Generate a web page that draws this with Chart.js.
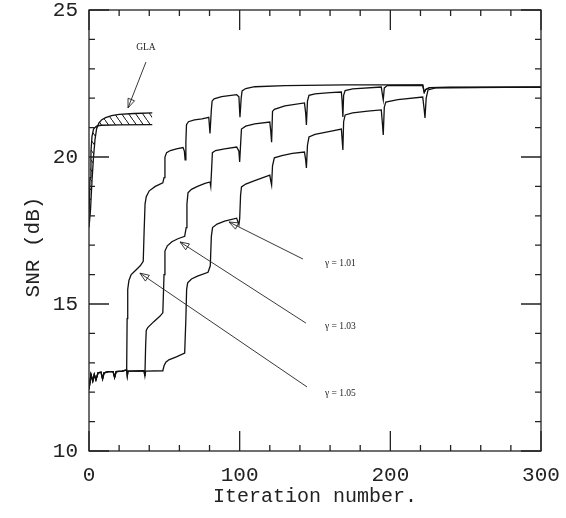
<!DOCTYPE html>
<html><head><meta charset="utf-8">
<script src="https://cdn.jsdelivr.net/npm/chart.js@4.4.0/dist/chart.umd.min.js"></script>
<style>html,body{margin:0;padding:0;background:#fff;}canvas{display:block;}</style>
</head><body>
<canvas id="c" width="566" height="518"></canvas>
<script>
// ---- tick labels ----
const xTickLabels = [0, 100, 200, 300];
const yTickLabels = [10, 15, 20, 25];
const xMinorStep = 20;
const yMinorStep = 1;

// ---- data (iteration, SNR dB) ----
const startNoise = [[0,12.1],[1.3,12.6],[2.5,12.38],[3.5,12.6],[4.6,12.42],[6,12.66],[8,12.68],[9,12.45],[10,12.66],[13,12.7],[16,12.7],[17,12.5],[18,12.7],[22,12.72],[24.5,12.75]];

const gamma105 = startNoise.concat([[25,12.76],[25.3,14.5],[25.7,15.5],[26.5,15.8],[28,16.0],[31,16.15],[34,16.3],[36,16.45],[36.6,17.5],[37.2,18.4],[38,18.65],[40,18.85],[44,19.0],[49,19.12],[49.8,19.3],[50.4,20.0],[51.5,20.15],[54,20.22],[58,20.28],[62.4,20.32],[63.3,20.2],[63.8,19.9],[64.3,20.5],[64.7,21.1],[66,21.2],[70,21.26],[75,21.3],[79.5,21.35],[80.3,20.8],[81.2,21.6],[81.7,21.9],[83,21.98],[88,22.05],[98,22.12],[99.5,22.05],[100.2,21.35],[101,22.0],[101.6,22.25],[104,22.33],[110,22.39],[130,22.43],[170,22.45],[221.5,22.45],[222.5,22.2],[223.5,22.3],[226,22.36],[240,22.38],[300,22.38]]);

const gamma103 = startNoise.concat([[25,12.75],[25.4,12.55],[25.9,12.72],[30,12.72],[36.5,12.73],[37.1,12.55],[37.6,13.6],[38,14.1],[39,14.2],[43,14.4],[47,14.58],[49,14.7],[49.8,16.0],[50.4,16.8],[52,16.98],[55,17.12],[59,17.22],[63.5,17.3],[64.5,17.6],[65,18.4],[65.7,18.78],[68,18.9],[72,19.0],[77,19.1],[80.3,19.15],[80.8,19.0],[81.4,19.6],[81.9,20.15],[84,20.22],[90,20.28],[98,20.34],[99.5,20.2],[100,19.83],[100.8,20.6],[101.2,20.95],[104,21.05],[110,21.13],[120,21.19],[120.6,20.9],[121.2,20.5],[121.8,21.55],[123,21.62],[130,21.74],[143,21.84],[143.8,21.5],[144.3,21.09],[145,21.9],[146,22.1],[150,22.15],[160,22.19],[167.5,22.21],[168,21.9],[168.5,21.36],[169,22.1],[170,22.26],[175,22.32],[194,22.38],[194.8,22.1],[195.3,21.94],[196,22.35],[198,22.43],[221.5,22.44],[222.5,22.2],[223.5,22.3],[226,22.36],[300,22.38]]);

const gamma101 = startNoise.concat([[25,12.75],[25.4,12.55],[25.9,12.72],[36.5,12.73],[37.1,12.55],[37.6,12.72],[49,12.73],[49.8,12.9],[51,13.02],[53,13.1],[58,13.2],[63.5,13.33],[64.3,14.5],[64.8,15.5],[65.5,15.72],[68,15.85],[72,15.95],[79,16.08],[80.5,16.3],[81.2,17.3],[82,17.6],[85,17.72],[90,17.82],[98,17.92],[99.5,17.7],[100,17.9],[100.6,18.7],[101.2,18.98],[104,19.08],[110,19.2],[120,19.38],[120.6,19.2],[121.2,19.05],[121.8,19.7],[123,19.97],[128,20.05],[135,20.12],[143,20.17],[143.8,19.9],[144.3,19.63],[145,20.4],[146,20.68],[150,20.77],[160,20.87],[167.5,20.95],[168,20.6],[168.5,20.24],[169,21.2],[170,21.43],[175,21.5],[185,21.56],[194,21.6],[194.8,21.1],[195.3,20.75],[196,21.7],[197,21.87],[205,21.95],[221.5,22.04],[222.5,21.6],[223,21.33],[223.8,22.0],[225,22.28],[230,22.35],[300,22.38]]);

const glaFast = [[0,18.0],[0.7,19.3],[1.3,20.2],[2,20.7],[3,20.95],[5,21.05],[8,21.08],[20,21.09],[42,21.1]];
const glaSlow = [[0,17.6],[1,18.2],[2,19.2],[3,20.0],[4,20.6],[5,20.95],[6.5,21.15],[8.5,21.27],[11,21.34],[15,21.41],[20,21.45],[30,21.48],[42,21.5]];

// ---- annotations (data units) ----
const labels = [
  {text:'GLA',       at:[37.8,23.74], align:'center', from:[37.8,23.23], to:[25.9,21.67]},
  {text:'γ = 1.01',  at:[156.6,16.39], align:'left',  from:[142,16.53],  to:[92.9,17.79]},
  {text:'γ = 1.03',  at:[156.6,14.22], align:'left',  from:[144,14.35],  to:[60.4,17.11]},
  {text:'γ = 1.05',  at:[156.6,11.97], align:'left',  from:[144.7,12.18],to:[33.8,16.05]}
];

const toXY = arr => arr.map(p => ({x:p[0], y:p[1]}));

// hatch pattern
const pc = document.createElement('canvas'); pc.width = 7; pc.height = 10;
const pctx = pc.getContext('2d');
pctx.strokeStyle = '#111'; pctx.lineWidth = 1;
pctx.beginPath(); pctx.moveTo(-1,-10/7); pctx.lineTo(8,10+10/7); pctx.stroke();
const hatch = pctx.createPattern(pc, 'repeat');

const lineStyle = {borderColor:'#111', borderWidth:1.3, pointRadius:0, fill:false, tension:0};

const framePlugin = {
  id:'frame',
  afterDatasetsDraw(chart){
    const {ctx, chartArea:a, scales:{x, y}} = chart;
    ctx.save();
    ctx.strokeStyle = '#222'; ctx.lineWidth = 1.3;
    ctx.strokeRect(a.left, a.top, a.right - a.left, a.bottom - a.top);
    ctx.beginPath();
    const majL = 20, minL = 6;
    for (let v = x.min; v <= x.max + 1e-9; v += xMinorStep) {
      const px = x.getPixelForValue(v);
      const L = xTickLabels.includes(v) ? majL : minL;
      ctx.moveTo(px, a.bottom); ctx.lineTo(px, a.bottom - L);
      ctx.moveTo(px, a.top); ctx.lineTo(px, a.top + L);
    }
    for (let v = y.min; v <= y.max + 1e-9; v += yMinorStep) {
      const py = y.getPixelForValue(v);
      const L = yTickLabels.includes(v) ? majL : minL;
      ctx.moveTo(a.left, py); ctx.lineTo(a.left + L, py);
      ctx.moveTo(a.right, py); ctx.lineTo(a.right - L, py);
    }
    ctx.stroke();

    // annotations
    ctx.lineWidth = 0.9; ctx.strokeStyle = '#222'; ctx.fillStyle = '#222';
    labels.forEach(l => {
      const fx = x.getPixelForValue(l.from[0]), fy = y.getPixelForValue(l.from[1]);
      const tx = x.getPixelForValue(l.to[0]), ty = y.getPixelForValue(l.to[1]);
      ctx.beginPath(); ctx.moveTo(fx, fy); ctx.lineTo(tx, ty); ctx.stroke();
      const ang = Math.atan2(fy - ty, fx - tx);
      const len = 9, hw = 3.5;
      const bx = tx + Math.cos(ang)*len, by = ty + Math.sin(ang)*len;
      const nx = -Math.sin(ang)*hw, ny = Math.cos(ang)*hw;
      ctx.beginPath(); ctx.moveTo(tx, ty); ctx.lineTo(bx + nx, by + ny); ctx.lineTo(bx - nx, by - ny); ctx.closePath(); ctx.stroke();
      ctx.font = '9.5px "Liberation Serif", "Times New Roman", serif';
      ctx.textAlign = l.align; ctx.textBaseline = 'middle';
      ctx.fillText(l.text, x.getPixelForValue(l.at[0]), y.getPixelForValue(l.at[1]));
    });

    // y axis title
    ctx.save();
    ctx.translate(33, 247); ctx.rotate(-Math.PI/2);
    ctx.font = '21px "Liberation Mono", monospace';
    ctx.textAlign = 'center'; ctx.textBaseline = 'middle';
    ctx.fillStyle = '#222';
    ctx.fillText('SNR (dB)', 0, 0);
    ctx.restore();
    ctx.restore();
  }
};

new Chart(document.getElementById('c'), {
  type: 'line',
  data: {
    datasets: [
      Object.assign({label:'GLA slow', data: toXY(glaSlow), backgroundColor: hatch}, lineStyle, {fill:{target:1}}),
      Object.assign({label:'GLA fast', data: toXY(glaFast)}, lineStyle),
      Object.assign({label:'γ = 1.05', data: toXY(gamma105)}, lineStyle),
      Object.assign({label:'γ = 1.03', data: toXY(gamma103)}, lineStyle),
      Object.assign({label:'γ = 1.01', data: toXY(gamma101)}, lineStyle)
    ]
  },
  options: {
    responsive: false,
    devicePixelRatio: 1,
    animation: false,
    layout: {padding: {top: 10, right: 25, left: 0, bottom: 0}},
    plugins: {legend: {display: false}, tooltip: {enabled: false}},
    scales: {
      x: {
        type: 'linear', min: 0, max: 300,
        afterBuildTicks: s => { s.ticks = xTickLabels.map(v => ({value: v})); },
        afterFit: s => { s.height = 67; s.paddingLeft = 0; s.paddingRight = 0; },
        grid: {display: false, drawTicks: false},
        border: {display: false},
        ticks: {color: '#222', padding: 12, maxRotation: 0, font: {family: '"Liberation Mono", monospace', size: 21}},
        title: {display: true, text: 'Iteration number.', color: '#222', padding: {top: 0, bottom: 9}, font: {family: '"Liberation Mono", monospace', size: 20}}
      },
      y: {
        type: 'linear', min: 10, max: 25,
        afterBuildTicks: s => { s.ticks = yTickLabels.map(v => ({value: v})); },
        afterFit: s => { s.width = 89; s.paddingTop = 0; s.paddingBottom = 0; },
        grid: {display: false, drawTicks: false},
        border: {display: false},
        ticks: {color: '#222', padding: 11, font: {family: '"Liberation Mono", monospace', size: 21}}
      }
    }
  },
  plugins: [framePlugin]
});
</script>
</body></html>
